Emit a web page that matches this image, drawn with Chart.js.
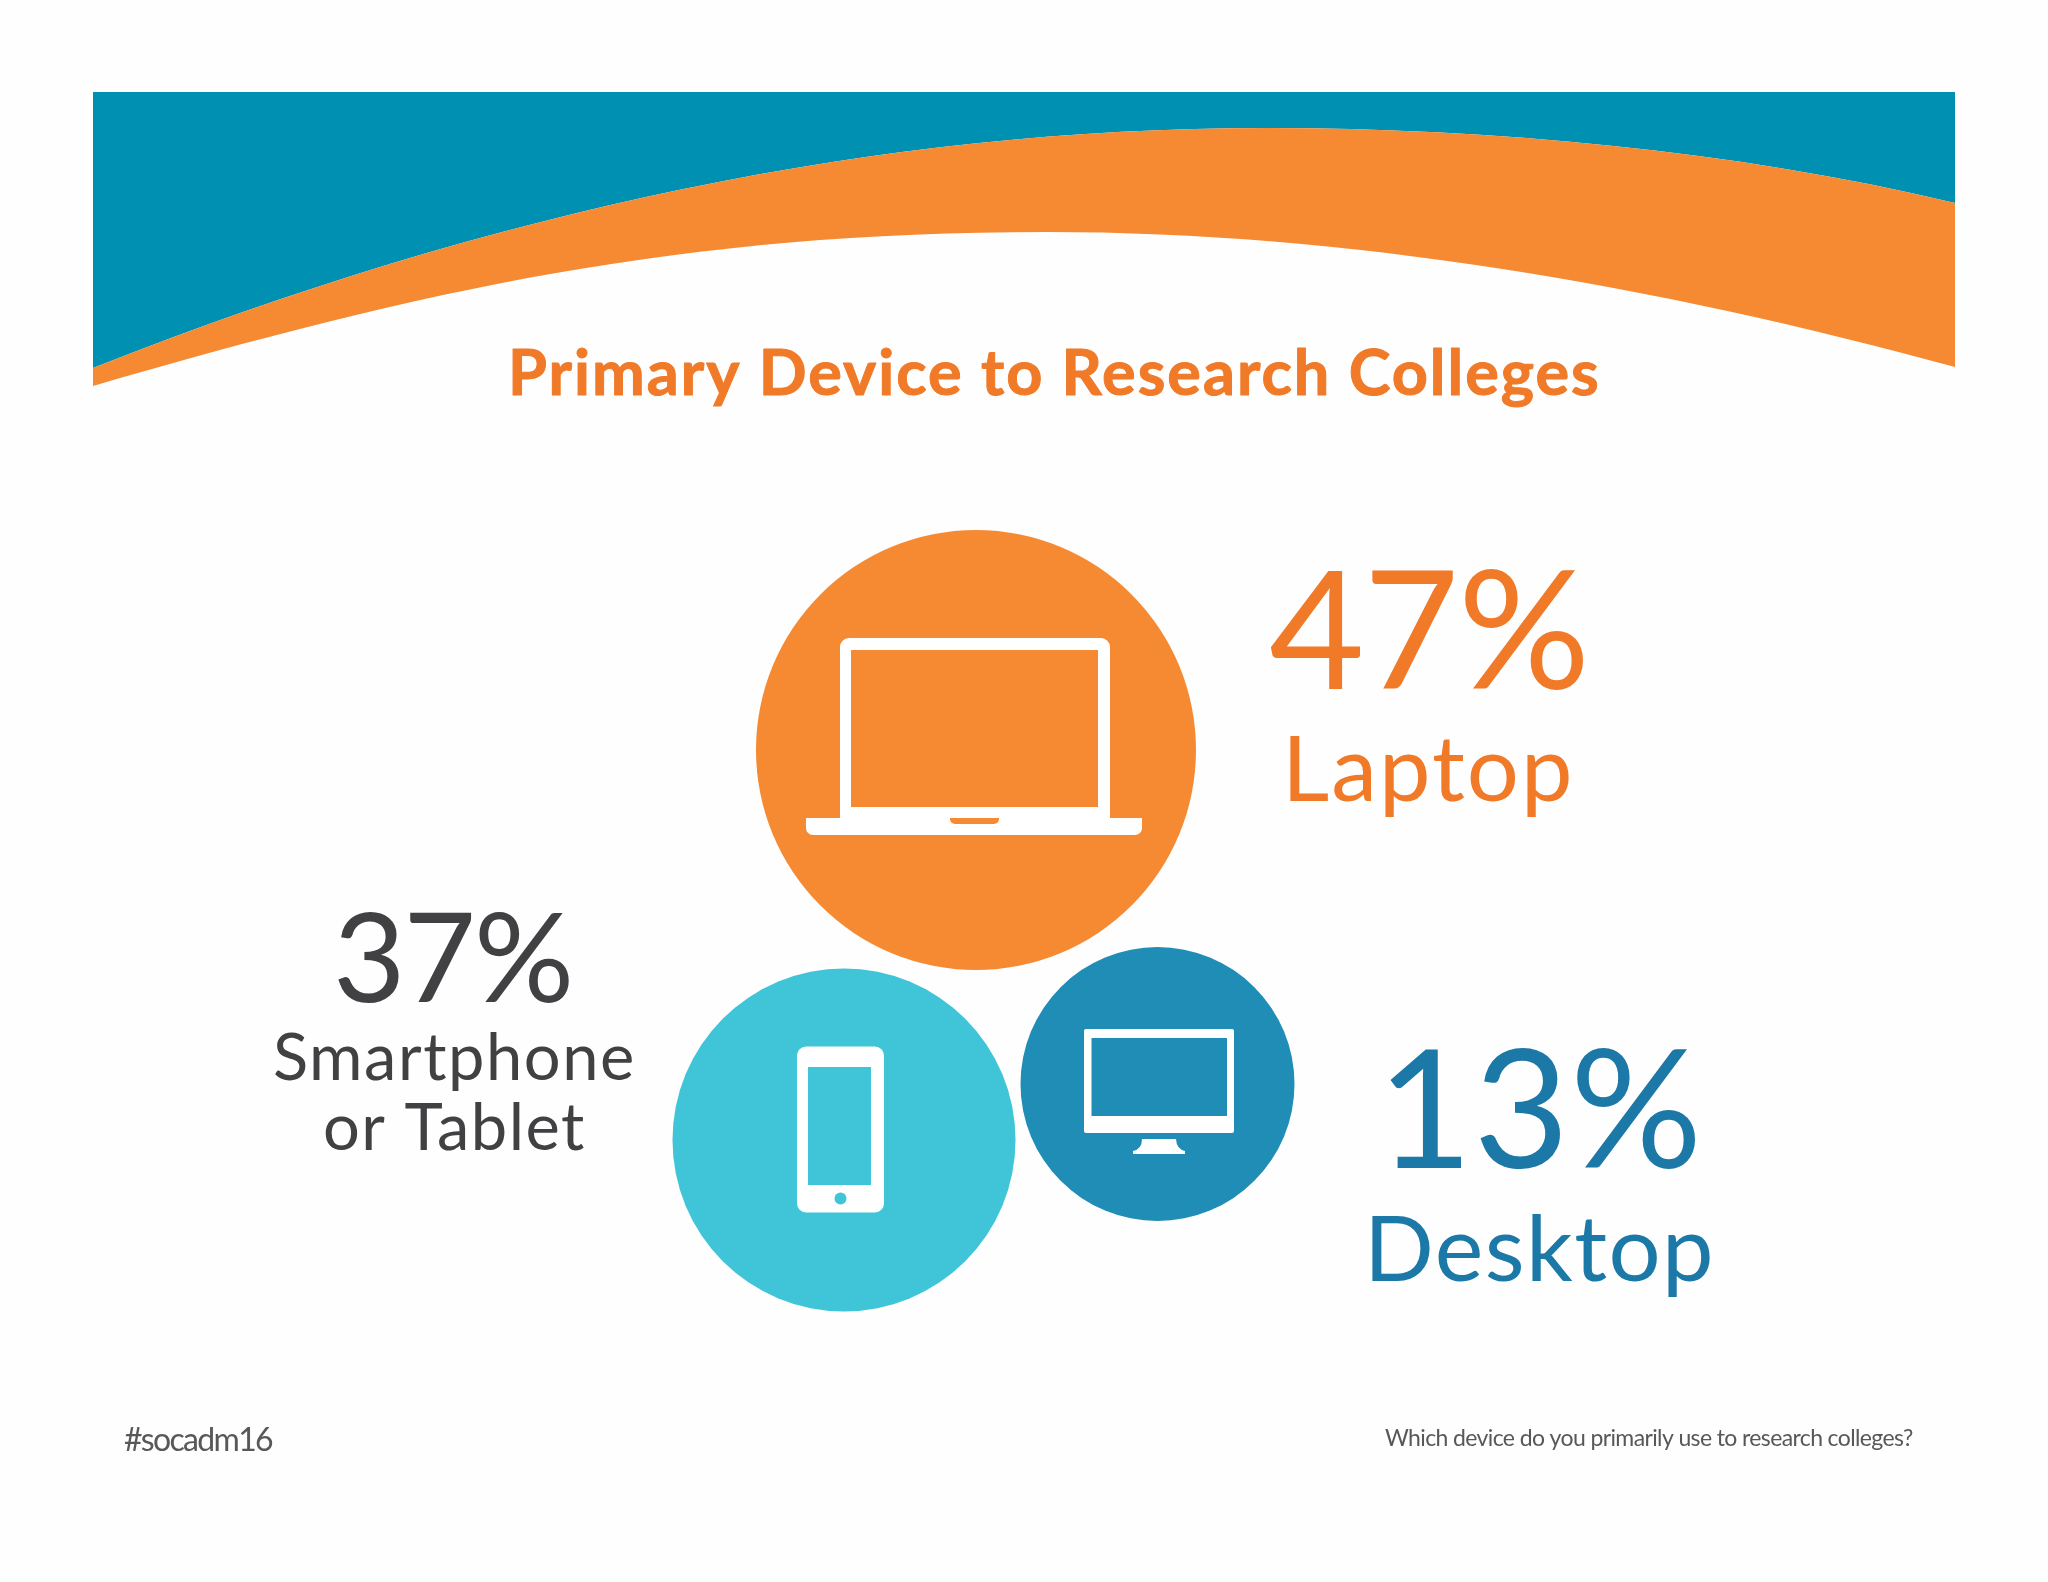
<!DOCTYPE html>
<html><head><meta charset="utf-8">
<style>html,body{margin:0;padding:0;background:#fefefe}canvas{display:block}</style>
<script src="https://cdn.jsdelivr.net/npm/chart.js@4"></script>
</head><body>
<canvas id="c" width="2048" height="1582"></canvas>
<script>
// ---- data ----
const devices = ["Laptop", "Smartphone or Tablet", "Desktop"];
const sharePercent = [47, 37, 13];
const bubbleX = [976, 844, 1157.5];
const bubbleY = [750, 1140, 1084];
const bubbleRadius = [220, 171.5, 137];
const bubbleColors = ["#F58A33", "#3FC4D8", "#1F8DB5"];
const chartTitle = "Primary Device to Research Colleges";
const footerLeft = "#socadm16";
const footerRight = "Which device do you primarily use to research colleges?";
// decorative banner edges: start point, then cubic control triples
const bannerUpper = [[93,368],[493,210],[880,128],[1267,128],[1487,128],[1735,150],[1955,203]];
const bannerLower = [[93,386],[423,290],[680,232],[1047,232],[1347,232],[1655,285],[1955,367]];

const FONT = 'Lato, Carlito, "Open Sans", sans-serif';

function fitText(ctx, text, x0, x1, baseline, size, weight, color, bolden){
  ctx.save();
  ctx.font = `${weight} ${size}px ${FONT}`;
  ctx.fillStyle = color;
  ctx.textAlign = 'left';
  ctx.textBaseline = 'alphabetic';
  ctx.letterSpacing = '0px';
  const m = ctx.measureText(text);
  const ink = m.actualBoundingBoxLeft + m.actualBoundingBoxRight;
  ctx.letterSpacing = ((x1 - x0 - ink) / Math.max(1, text.length - 1)).toFixed(2) + 'px';
  const px = x0 + m.actualBoundingBoxLeft;
  ctx.fillText(text, px, baseline);
  if (bolden){ ctx.strokeStyle = color; ctx.lineWidth = bolden; ctx.lineJoin = 'round'; ctx.strokeText(text, px, baseline); }
  ctx.restore();
}
// walks a chain of cubic segments whose first point is the current position
function curve(ctx, pts, sx, sy){
  for (let i = 1; i + 2 < pts.length; i += 3){
    ctx.bezierCurveTo(sx(pts[i][0]), sy(pts[i][1]), sx(pts[i+1][0]), sy(pts[i+1][1]), sx(pts[i+2][0]), sy(pts[i+2][1]));
  }
}
function rr(ctx,x0,y0,x1,y1,r){ ctx.roundRect(x0,y0,x1-x0,y1-y0,r); }

const bannerPlugin = {
  id:'banner',
  beforeDatasetsDraw(chart){
    const {ctx, scales:{x,y}} = chart;
    const sx = v => x.getPixelForValue(v), sy = v => y.getPixelForValue(v);
    ctx.save();
    // teal band
    ctx.fillStyle = '#0090B2';
    ctx.beginPath();
    ctx.moveTo(sx(1955), sy(203)); ctx.lineTo(sx(1955), sy(92)); ctx.lineTo(sx(93), sy(92));
    ctx.lineTo(sx(93), sy(368));
    curve(ctx, bannerUpper, sx, sy);
    ctx.closePath(); ctx.fill();
    // orange swoosh
    ctx.fillStyle = '#F58A33';
    ctx.beginPath();
    ctx.moveTo(sx(93), sy(386)); ctx.lineTo(sx(93), sy(368));
    curve(ctx, bannerUpper, sx, sy);
    ctx.lineTo(sx(1955), sy(367));
    curve(ctx, [...bannerLower].reverse(), sx, sy);
    ctx.closePath(); ctx.fill();
    ctx.restore();
  }
};
const iconsPlugin = {
  id:'icons',
  afterDatasetsDraw(chart){
    const {ctx, scales:{x,y}} = chart;
    const W = '#FFFFFF';
    const center = i => [x.getPixelForValue(bubbleX[i]), y.getPixelForValue(bubbleY[i])];
    ctx.save();
    // laptop
    let [cx,cy] = center(0);
    ctx.fillStyle = W;
    ctx.beginPath(); rr(ctx,cx-136,cy-112,cx+134,cy+70,[9,9,0,0]); ctx.fill();
    ctx.beginPath(); rr(ctx,cx-170,cy+68,cx+166,cy+85,[0,0,7,7]); ctx.fill();
    ctx.fillStyle = bubbleColors[0];
    ctx.fillRect(cx-125,cy-100,247,157);
    ctx.beginPath(); rr(ctx,cx-26,cy+68,cx+23,cy+74,[0,0,5,5]); ctx.fill();
    // phone
    [cx,cy] = center(1);
    ctx.fillStyle = W;
    ctx.beginPath(); rr(ctx,cx-47,cy-93.5,cx+40,cy+72.5,9); ctx.fill();
    ctx.fillStyle = bubbleColors[1];
    ctx.fillRect(cx-36,cy-73,63,118);
    ctx.beginPath(); ctx.arc(cx-3.5,cy+58.5,6,0,Math.PI*2); ctx.fill();
    // desktop
    [cx,cy] = center(2);
    ctx.fillStyle = W;
    ctx.beginPath(); rr(ctx,cx-73.5,cy-55,cx+76.5,cy+49,2); ctx.fill();
    ctx.beginPath();
    ctx.moveTo(cx-15.5,cy+55); ctx.lineTo(cx+18.5,cy+55);
    ctx.quadraticCurveTo(cx+19,cy+65,cx+27.5,cy+67); ctx.lineTo(cx+27.5,cy+70);
    ctx.lineTo(cx-24.5,cy+70); ctx.lineTo(cx-24.5,cy+67);
    ctx.quadraticCurveTo(cx-15.5,cy+65,cx-15.5,cy+55); ctx.closePath(); ctx.fill();
    ctx.fillStyle = bubbleColors[2];
    ctx.fillRect(cx-66,cy-46,135.5,78);
    ctx.restore();
  }
};
const textPlugin = {
  id:'texts',
  afterDraw(chart){
    const c = chart.ctx;
    fitText(c, chartTitle, 513, 1597, 395, 63, 700, '#F07A28', 1);
    fitText(c, sharePercent[0] + '%', 1270, 1583, 689, 165, 400, '#F17A28');
    fitText(c, devices[0], 1290, 1569, 801, 92, 400, '#F17A28');
    fitText(c, sharePercent[1] + '%', 338, 569, 1002, 125, 400, '#414042');
    fitText(c, 'Smartphone', 275, 632, 1080, 65, 400, '#414042');
    fitText(c, 'or Tablet', 325, 584, 1150, 65, 400, '#414042');
    fitText(c, sharePercent[2] + '%', 1390, 1695, 1168, 165, 400, '#1C78A6');
    fitText(c, devices[2], 1372, 1710, 1281, 92, 400, '#1C78A6');
    fitText(c, footerLeft, 124, 273, 1451, 32, 400, '#58585A');
    fitText(c, footerRight, 1385, 1913, 1446, 23, 400, '#58585A');
  }
};

new Chart(document.getElementById('c'), {
  type:'bubble',
  data:{
    labels: devices,
    datasets:[{
      label:'Primary device share (%)',
      data: devices.map((d,i)=>({x:bubbleX[i], y:bubbleY[i], r:bubbleRadius[i], share:sharePercent[i]})),
      backgroundColor:bubbleColors, borderWidth:0, hoverRadius:0, clip:false
    }]
  },
  options:{
    responsive:false, animation:false, devicePixelRatio:1,
    layout:{padding:0, autoPadding:false},
    plugins:{legend:{display:false}, tooltip:{enabled:false}, title:{display:false}},
    scales:{
      x:{type:'linear', min:0, max:2048, display:false},
      y:{type:'linear', min:0, max:1582, reverse:true, display:false}
    }
  },
  plugins:[bannerPlugin, iconsPlugin, textPlugin]
});
</script>
</body></html>
